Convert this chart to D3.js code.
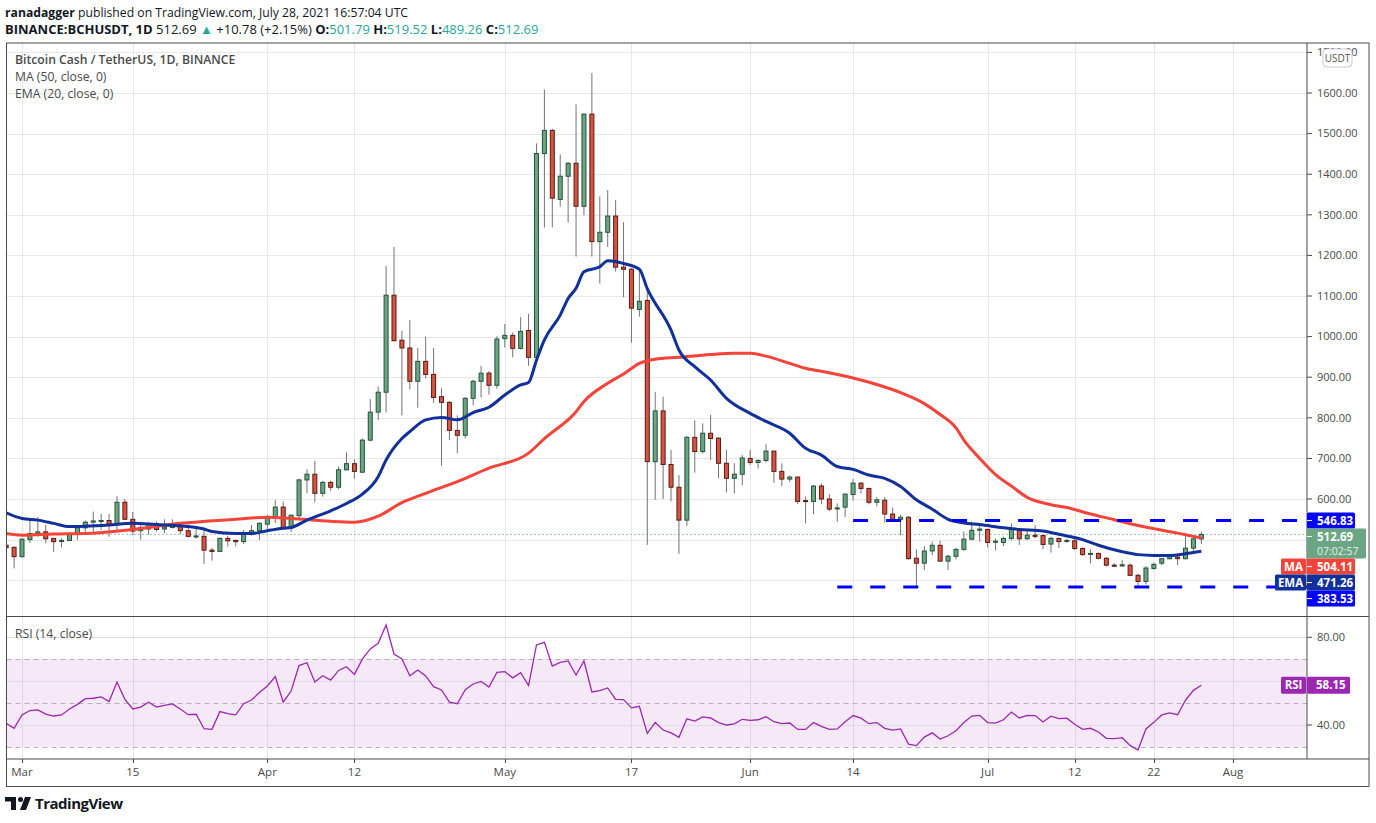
<!DOCTYPE html>
<html>
<head>
<meta charset="utf-8">
<script src="https://cdn.jsdelivr.net/npm/d3@7"></script>
<style>
  body { margin: 0; background: #fff; }
  svg { display: block; font-family: "Open Sans", sans-serif; }
</style>
</head>
<body>
<script>
// BCH/USDT daily candles, 2021-02-27 .. 2021-07-28
const firstDay = "2021-02-27";
const opens = [
  486, 481,
  // Mar
  458, 500, 515, 519, 503, 496, 498, 515, 529, 543, 545, 547, 537, 592, 550, 522, 526, 539, 526, 530, 534, 522, 507, 508, 474, 471, 503, 498, 495, 513, 522,
  // Apr
  538, 555, 580, 529, 559, 647, 661, 614, 641, 629, 672, 687, 666, 745, 814, 863, 1102, 991, 972, 890, 939, 907, 852, 838, 769, 757, 848, 890, 910, 880,
  // May
  995, 1003, 971, 1015, 949, 1451, 1508, 1338, 1395, 1427, 1321, 1548, 1234, 1257, 1297, 1171, 1166, 1067, 1089, 692, 817, 685, 629, 548, 752, 717, 762, 750, 688, 651, 661,
  // Jun
  700, 690, 695, 718, 668, 649, 654, 596, 594, 632, 600, 576, 580, 611, 639, 626, 592, 597, 563, 550, 555, 454, 442, 472, 486, 447, 459, 476, 501, 523,
  // Jul
  525, 494, 493, 503, 525, 502, 511, 510, 489, 503, 496, 497, 478, 464, 466, 454, 437, 435, 437, 412, 397, 429, 442, 453, 457, 453, 479, 501.79
];
const highs = [
  490, 483,
  503, 550, 556, 536, 504, 503, 518, 532, 547, 569, 563, 563, 607, 600, 568, 536, 542, 545, 550, 550, 542, 538, 532, 527, 480, 505, 509, 500, 524, 536, 543,
  560, 597, 594, 562, 650, 673, 694, 645, 645, 680, 715, 698, 749, 846, 877, 1174, 1221, 1014, 1041, 972, 1000, 972, 873, 841, 806, 851, 894, 928, 915, 1001,
  1031, 1010, 1048, 1056, 1476, 1609, 1512, 1449, 1430, 1572, 1550, 1649, 1345, 1361, 1336, 1282, 1168, 1166, 1117, 864, 852, 721, 659, 755, 794, 786, 807, 752, 721, 688, 708,
  721, 698, 735, 718, 688, 658, 655, 606, 634, 639, 612, 589, 614, 649, 642, 628, 605, 605, 579, 561, 558, 476, 484, 495, 497, 463, 480, 520, 544, 536,
  527, 503, 507, 540, 527, 524, 536, 512, 507, 505, 502, 502, 481, 476, 468, 457, 442, 450, 441, 416, 435, 443, 455, 460, 460, 517, 504, 519.52
];
const lows = [
  468, 429,
  456, 492, 507, 491, 470, 481, 497, 499, 519, 515, 524, 507, 524, 548, 511, 500, 512, 520, 516, 527, 513, 505, 502, 440, 448, 469, 483, 483, 489, 510, 499,
  526, 541, 525, 519, 548, 614, 592, 606, 620, 624, 670, 650, 665, 742, 795, 813, 988, 806, 870, 825, 897, 837, 682, 745, 713, 749, 831, 850, 857, 872,
  973, 949, 968, 928, 935, 1269, 1269, 1320, 1281, 1197, 1299, 1197, 1131, 1221, 1160, 1097, 985, 1049, 487, 598, 600, 594, 465, 534, 665, 712, 696, 651, 616, 614, 634,
  684, 675, 690, 640, 631, 642, 588, 540, 563, 587, 570, 544, 556, 596, 614, 587, 582, 542, 548, 511, 451, 384, 425, 462, 446, 425, 451, 472, 498, 495,
  481, 473, 484, 498, 487, 499, 503, 476, 468, 479, 492, 474, 460, 442, 451, 434, 432, 433, 411, 383, 390, 426, 437, 451, 437, 451, 467, 489.26
];
const closes = [
  480, 458,
  501, 515, 519, 502, 495, 498, 515, 529, 543, 546, 547, 536, 592, 550, 521, 530, 539, 525, 531, 535, 522, 508, 509, 474, 471, 503, 497, 495, 515, 522, 540,
  555, 580, 528, 560, 647, 661, 614, 641, 629, 672, 687, 668, 745, 814, 863, 1102, 990, 972, 890, 939, 907, 850, 838, 769, 757, 848, 890, 910, 880, 994,
  1003, 971, 1013, 949, 1451, 1508, 1341, 1395, 1427, 1321, 1548, 1234, 1257, 1297, 1171, 1166, 1070, 1087, 692, 817, 685, 629, 548, 752, 717, 762, 749, 688, 651, 661, 701,
  690, 695, 718, 668, 649, 654, 594, 594, 632, 600, 575, 578, 612, 639, 626, 592, 598, 563, 550, 555, 453, 442, 472, 486, 447, 459, 476, 501, 523, 526,
  493, 496, 503, 525, 502, 511, 508, 488, 503, 495, 498, 478, 463, 466, 454, 437, 435, 438, 412, 397, 430, 439, 453, 458, 453, 479, 501.79, 512.69
];
// RSI(14) per day, same days as the candles
const rsi = [
  40.8, 38.5,
  44.6, 46.6, 46.9, 45.0, 44.1, 44.6, 47.3, 49.4, 52.0, 52.2, 52.8, 50.7, 59.5, 51.7, 47.3, 48.2, 50.4, 48.2, 49.0, 49.6, 47.3, 44.7, 44.9, 38.3, 38.0, 46.1, 45.2, 44.6, 49.7, 51.4, 54.8,
  57.8, 62.1, 50.4, 55.5, 67.1, 68.4, 59.6, 62.5, 60.5, 64.9, 66.6, 63.1, 70.0, 74.7, 77.3, 85.6, 72.4, 70.1, 62.5, 65.1, 62.4, 57.5, 56.0, 50.4, 49.7, 56.1, 58.7, 59.9, 57.3, 64.0,
  64.3, 61.5, 63.9, 58.0, 76.5, 77.7, 66.9, 68.6, 69.2, 62.8, 69.2, 55.1, 55.7, 56.9, 51.7, 51.6, 47.8, 48.5, 36.2, 41.1, 37.7, 36.4, 34.4, 42.8, 41.8, 43.7, 43.2, 41.1, 40.0, 40.5, 42.6,
  42.1, 42.4, 43.8, 41.5, 40.6, 40.9, 38.0, 38.0, 41.1, 39.4, 38.0, 38.2, 41.5, 44.3, 43.1, 40.6, 41.1, 38.5, 37.7, 38.2, 31.3, 30.6, 34.5, 36.4, 33.6, 35.1, 37.4, 41.1, 44.1, 44.4,
  41.1, 40.9, 42.4, 45.9, 43.2, 44.4, 44.3, 41.4, 44.0, 42.9, 43.1, 40.3, 38.0, 38.5, 36.8, 33.9, 33.8, 34.2, 30.7, 28.6, 38.2, 41.2, 44.6, 45.5, 44.7, 51.3, 55.8, 58.15
];
// MA(50) and EMA(20)
const maPoints = [
  ["02-27", 515], ["03-01", 511], ["03-05", 514], ["03-09", 515], ["03-15", 525], ["03-21", 540], ["03-28", 550],
  ["04-01", 555], ["04-04", 552], ["04-09", 545], ["04-12", 543], ["04-15", 558], ["04-18", 591], ["04-21", 614],
  ["04-25", 643], ["04-29", 676], ["05-04", 713], ["05-06", 749], ["05-10", 815], ["05-11", 840], ["05-14", 885],
  ["05-16", 908], ["05-18", 934], ["05-20", 944], ["05-23", 949], ["05-27", 956], ["05-30", 959], ["06-01", 959],
  ["06-03", 952], ["06-06", 934], ["06-08", 922], ["06-11", 911], ["06-14", 898], ["06-17", 882], ["06-20", 862],
  ["06-23", 835], ["06-25", 808], ["06-27", 775], ["06-28", 745], ["06-30", 700],
  ["07-02", 660], ["07-04", 632], ["07-06", 604], ["07-09", 586], ["07-11", 579], ["07-14", 563], ["07-17", 549],
  ["07-19", 539], ["07-22", 527], ["07-25", 516], ["07-28", 504.11]
];
const emaPoints = [
  ["02-27", 566], ["03-01", 552], ["03-03", 548], ["03-05", 540], ["03-07", 532], ["03-09", 533], ["03-12", 536],
  ["03-15", 540], ["03-18", 537], ["03-21", 534], ["03-24", 526], ["03-25", 520], ["03-28", 515], ["03-30", 515],
  ["04-01", 522], ["04-03", 528], ["04-04", 530], ["04-06", 548], ["04-09", 571], ["04-11", 589], ["04-13", 612],
  ["04-15", 655], ["04-16", 696], ["04-18", 749], ["04-19", 766], ["04-21", 795], ["04-23", 801], ["04-25", 795],
  ["04-27", 813], ["04-29", 826], ["05-01", 856], ["05-03", 881], ["05-04", 887], ["05-05", 942], ["05-06", 992],
  ["05-08", 1053], ["05-09", 1094], ["05-10", 1119], ["05-11", 1160], ["05-13", 1172], ["05-14", 1187], ["05-15", 1185],
  ["05-16", 1180], ["05-18", 1166], ["05-19", 1118], ["05-22", 1016], ["05-23", 967], ["05-25", 926], ["05-27", 893],
  ["05-29", 848], ["06-01", 811], ["06-03", 791], ["06-06", 762], ["06-08", 725], ["06-10", 708], ["06-12", 680],
  ["06-14", 673], ["06-16", 659], ["06-18", 651], ["06-20", 631], ["06-22", 598], ["06-24", 575], ["06-26", 550],
  ["06-28", 541], ["06-30", 537], ["07-03", 529], ["07-05", 525], ["07-08", 521], ["07-10", 513], ["07-13", 500],
  ["07-15", 486], ["07-18", 470], ["07-20", 463], ["07-22", 461], ["07-24", 461], ["07-26", 465], ["07-28", 471.26]
];
// horizontal levels drawn by the author
const levelValues = [546.83, 383.53];
const levelStarts = ["2021-06-14", "2021-06-12"];
const priceTicks = [600, 700, 800, 900, 1000, 1100, 1200, 1300, 1400, 1500, 1600, 1700];
const timeTicks = ["2021-03-01", "2021-03-15", "2021-04-01", "2021-04-12", "2021-05-01", "2021-05-17",
                   "2021-06-01", "2021-06-14", "2021-07-01", "2021-07-12", "2021-07-22", "2021-08-01"];
const timeLabels = ["Mar", "15", "Apr", "12", "May", "17", "Jun", "14", "Jul", "12", "22", "Aug"];

const W = 1376, H = 823;
const L = 6.5, R = 1307, TOP = 43, MID = 616.5, BOT = 759, FRAME_R = 1369, FRAME_B = 786.5;
const UP = "#6ba583", DOWN = "#d75442", UP_B = "#225437", DOWN_B = "#5b1a13";
const MA_C = "#f3443a", EMA_C = "#12309a", RSI_C = "#9c27b0", LVL_C = "#0000ff";

const parse = d3.utcParse("%Y-%m-%d");
const d0 = parse(firstDay);
const candles = opens.map((o, i) => ({
  date: d3.utcDay.offset(d0, i), o: o, h: highs[i], l: lows[i], c: closes[i], r: rsi[i]
}));

const x = d3.scaleUtc().domain([parse("2021-03-01"), parse("2021-08-01")]).range([22, 1233]);
const y = d3.scaleLinear().domain([310.6, 1723.2]).range([MID, TOP]);
const yr = d3.scaleLinear().domain([40, 80]).range([725, 637.3]);

const svg = d3.select("body").append("svg").attr("width", W).attr("height", H);

const defs = svg.append("defs");
defs.append("clipPath").attr("id", "clipMain").append("rect")
  .attr("x", L).attr("y", TOP).attr("width", R - L).attr("height", MID - TOP);
defs.append("clipPath").attr("id", "clipRsi").append("rect")
  .attr("x", L).attr("y", MID).attr("width", R - L).attr("height", BOT - MID);

// header
const hdr = svg.append("g").attr("fill", "#131722");
hdr.append("text").attr("x", 5).attr("y", 17).attr("font-size", 12.2)
  .call(t => {
    t.append("tspan").attr("font-weight", 700).text("ranadagger");
    t.append("tspan").text(" published on TradingView.com, July 28, 2021 16:57:04 UTC");
  });
hdr.append("text").attr("x", 5).attr("y", 34).attr("font-size", 13)
  .call(t => {
    t.append("tspan").attr("font-weight", 700).text("BINANCE:BCHUSDT, 1D");
    t.append("tspan").text(" 512.69 ");
    t.append("tspan").attr("fill", "#26a69a").text("▲");
    t.append("tspan").text(" +10.78 (+2.15%) ");
    [["O:", "501.79"], ["H:", "519.52"], ["L:", "489.26"], ["C:", "512.69"]].forEach(([k, v], i) => {
      t.append("tspan").attr("font-weight", 700).text((i ? " " : "") + k);
      t.append("tspan").attr("fill", "#26a69a").text(v);
    });
  });

// grid
const grid = svg.append("g").attr("stroke", "#e8e8e8").attr("stroke-width", 1);
grid.selectAll("line.v").data(timeTicks).join("line")
  .attr("x1", d => Math.round(x(parse(d))) + 0.5).attr("x2", d => Math.round(x(parse(d))) + 0.5)
  .attr("y1", TOP).attr("y2", BOT);
grid.selectAll("line.h").data(d3.range(400, 1800, 100)).join("line")
  .attr("x1", L).attr("x2", R)
  .attr("y1", d => Math.round(y(d)) + 0.5).attr("y2", d => Math.round(y(d)) + 0.5);

// RSI panel background band and guides
const rp = svg.append("g");
rp.append("rect").attr("x", L).attr("width", R - L)
  .attr("y", yr(70)).attr("height", yr(30) - yr(70))
  .attr("fill", RSI_C).attr("fill-opacity", 0.1);
rp.selectAll("line.g").data([80, 60, 40]).join("line")
  .attr("x1", L).attr("x2", R)
  .attr("y1", d => Math.round(yr(d)) + 0.5).attr("y2", d => Math.round(yr(d)) + 0.5)
  .attr("stroke", "#e0dbe3");
rp.selectAll("line.b").data([70, 50, 30]).join("line")
  .attr("x1", L).attr("x2", R)
  .attr("y1", d => Math.round(yr(d)) + 0.5).attr("y2", d => Math.round(yr(d)) + 0.5)
  .attr("stroke", "#b9b0bd").attr("stroke-dasharray", "5,4");
rp.append("path")
  .attr("clip-path", "url(#clipRsi)")
  .attr("fill", "none").attr("stroke", RSI_C).attr("stroke-width", 1.3)
  .attr("d", d3.line().x(d => x(d.date)).y(d => yr(d.r))(candles));

// main panel
const main = svg.append("g").attr("clip-path", "url(#clipMain)");

// last price dotted line
main.append("line")
  .attr("x1", L).attr("x2", R)
  .attr("y1", y(closes[closes.length - 1])).attr("y2", y(closes[closes.length - 1]))
  .attr("stroke", "#4f8f6c").attr("stroke-dasharray", "1,3");

const gc = main.append("g");
gc.selectAll("line").data(candles).join("line")
  .attr("x1", d => x(d.date)).attr("x2", d => x(d.date))
  .attr("y1", d => y(d.h)).attr("y2", d => y(d.l))
  .attr("stroke", "#737375").attr("stroke-width", 1);
gc.selectAll("rect").data(candles).join("rect")
  .attr("x", d => x(d.date) - 2).attr("width", 4)
  .attr("y", d => y(Math.max(d.o, d.c)))
  .attr("height", d => Math.max(1, Math.abs(y(d.o) - y(d.c))))
  .attr("fill", d => d.c >= d.o ? UP : DOWN)
  .attr("stroke", d => d.c >= d.o ? UP_B : DOWN_B)
  .attr("stroke-width", 1);

const pLine = d3.line()
  .x(d => x(parse("2021-" + d[0])))
  .y(d => y(d[1]))
  .curve(d3.curveMonotoneX);
main.append("path").attr("d", pLine(maPoints))
  .attr("fill", "none").attr("stroke", MA_C).attr("stroke-width", 3).attr("stroke-linejoin", "round");
main.append("path").attr("d", pLine(emaPoints))
  .attr("fill", "none").attr("stroke", EMA_C).attr("stroke-width", 3).attr("stroke-linejoin", "round");

// dashed levels
main.selectAll("line.lvl").data(levelValues).join("line")
  .attr("x1", (d, i) => x(parse(levelStarts[i]))).attr("x2", R)
  .attr("y1", d => y(d)).attr("y2", d => y(d))
  .attr("stroke", LVL_C).attr("stroke-width", 3).attr("stroke-dasharray", "15,18");

// legends
const lg = svg.append("g").attr("font-size", 12.2).attr("fill", "#4a4a4a");
lg.append("text").attr("x", 15).attr("y", 64).attr("font-weight", 600).text("Bitcoin Cash / TetherUS, 1D, BINANCE");
lg.append("text").attr("x", 15).attr("y", 81).text("MA (50, close, 0)");
lg.append("text").attr("x", 15).attr("y", 98).text("EMA (20, close, 0)");
lg.append("text").attr("x", 15).attr("y", 638).text("RSI (14, close)");

// frame and axes lines
const fr = svg.append("g").attr("stroke", "#4a4a4a").attr("fill", "none");
fr.append("rect").attr("x", L).attr("y", TOP).attr("width", FRAME_R - L).attr("height", FRAME_B - TOP);
fr.append("line").attr("x1", L).attr("x2", FRAME_R).attr("y1", MID).attr("y2", MID);
fr.append("line").attr("x1", L).attr("x2", FRAME_R).attr("y1", BOT).attr("y2", BOT);
fr.append("line").attr("x1", R).attr("x2", R).attr("y1", TOP).attr("y2", BOT);

// price axis
const pa = svg.append("g").attr("font-size", 11).attr("fill", "#4a4a4a");
pa.selectAll("line").data(priceTicks).join("line")
  .attr("x1", R).attr("x2", R + 5).attr("y1", d => y(d)).attr("y2", d => y(d))
  .attr("stroke", "#4a4a4a");
pa.selectAll("text").data(priceTicks).join("text")
  .attr("x", 1317).attr("y", d => y(d)).attr("dy", "0.35em")
  .text(d => d3.format(".2f")(d));
const badge = svg.append("g");
badge.append("rect").attr("x", 1323).attr("y", 49).attr("width", 29).attr("height", 18).attr("rx", 4)
  .attr("fill", "#fff").attr("stroke", "#c9c9d4");
badge.append("text").attr("x", 1337.5).attr("y", 61.5).attr("text-anchor", "middle")
  .attr("font-size", 10).attr("fill", "#555").text("USDT");

// rsi axis
const ra = svg.append("g").attr("font-size", 11).attr("fill", "#4a4a4a");
ra.selectAll("line").data([80, 40]).join("line")
  .attr("x1", R).attr("x2", R + 5).attr("y1", d => yr(d)).attr("y2", d => yr(d)).attr("stroke", "#4a4a4a");
ra.selectAll("text").data([80, 40]).join("text")
  .attr("x", 1317).attr("y", d => yr(d)).attr("dy", "0.35em").text(d => d3.format(".2f")(d));

// time axis
const ta = svg.append("g").attr("font-size", 11.5).attr("fill", "#4a4a4a");
ta.selectAll("line").data(timeTicks).join("line")
  .attr("x1", d => Math.round(x(parse(d))) + 0.5).attr("x2", d => Math.round(x(parse(d))) + 0.5)
  .attr("y1", BOT).attr("y2", BOT + 4).attr("stroke", "#4a4a4a");
ta.selectAll("text").data(timeTicks).join("text")
  .attr("x", d => x(parse(d))).attr("y", 776).attr("text-anchor", "middle")
  .text((d, i) => timeLabels[i]);

// right-axis value boxes
const lastClose = closes[closes.length - 1];
const boxes = [
  { v: levelValues[0], text: "546.83", fill: LVL_C, h: 16, w: 48 },
  { v: lastClose, text: "512.69", sub: "07:02:57", fill: UP, h: 30, w: 59 },
  { v: maPoints[maPoints.length - 1][1], text: "504.11", fill: MA_C, h: 16, w: 48, tag: "MA", tagW: 25 },
  { v: emaPoints[emaPoints.length - 1][1], text: "471.26", fill: EMA_C, h: 16, w: 48, tag: "EMA", tagW: 31 },
  { v: levelValues[1], text: "383.53", fill: LVL_C, h: 16, w: 48 }
];
let prevBottom = -Infinity;
boxes.forEach(b => {
  b.top = Math.max(y(b.v) - 8, prevBottom);
  prevBottom = b.top + b.h;
});
const bx = svg.append("g").attr("font-size", 11.5).attr("font-weight", 700);
boxes.forEach(b => {
  bx.append("rect").attr("x", R).attr("y", b.top).attr("width", b.w).attr("height", b.h)
    .attr("rx", 1.5).attr("fill", b.fill);
  bx.append("line").attr("x1", R).attr("x2", R + 5).attr("y1", b.top + 8).attr("y2", b.top + 8)
    .attr("stroke", "#fff");
  bx.append("text").attr("x", 1317).attr("y", b.top + 8).attr("dy", "0.36em")
    .attr("fill", "#fff").text(b.text);
  if (b.sub) {
    bx.append("text").attr("x", 1317).attr("y", b.top + 23).attr("dy", "0.36em")
      .attr("font-size", 10.5).attr("fill", "#e6f2ea").attr("font-weight", 400).text(b.sub);
  }
  if (b.tag) {
    bx.append("rect").attr("x", R - 1 - b.tagW).attr("y", b.top).attr("width", b.tagW).attr("height", b.h)
      .attr("rx", 1.5).attr("fill", b.fill);
    bx.append("text").attr("x", R - 1 - b.tagW / 2).attr("y", b.top + 8).attr("dy", "0.36em")
      .attr("text-anchor", "middle").attr("fill", "#fff").text(b.tag);
  }
});
// RSI value box
const rLast = rsi[rsi.length - 1];
const rTop = yr(rLast) - 8.5;
bx.append("rect").attr("x", R).attr("y", rTop).attr("width", 43).attr("height", 17).attr("rx", 1.5).attr("fill", RSI_C);
bx.append("text").attr("x", 1316).attr("y", yr(rLast)).attr("dy", "0.36em").attr("fill", "#fff").text(d3.format(".2f")(rLast));
bx.append("rect").attr("x", 1281).attr("y", rTop).attr("width", 25).attr("height", 17).attr("rx", 1.5).attr("fill", RSI_C);
bx.append("text").attr("x", 1293.5).attr("y", yr(rLast)).attr("dy", "0.36em").attr("text-anchor", "middle")
  .attr("fill", "#fff").text("RSI");

// footer logo
const logo = svg.append("g").attr("fill", "#131722");
logo.append("path").attr("d", "M5,797 H16 V810 H11 V801.5 H5 Z");
logo.append("circle").attr("cx", 20.5).attr("cy", 799.5).attr("r", 2.5);
logo.append("path").attr("d", "M25,797 H31 L26,810 H20 Z");
logo.append("text").attr("x", 35).attr("y", 809).attr("font-size", 15).attr("font-weight", 700)
  .attr("letter-spacing", -0.5).text("TradingView");
</script>
</body>
</html>
